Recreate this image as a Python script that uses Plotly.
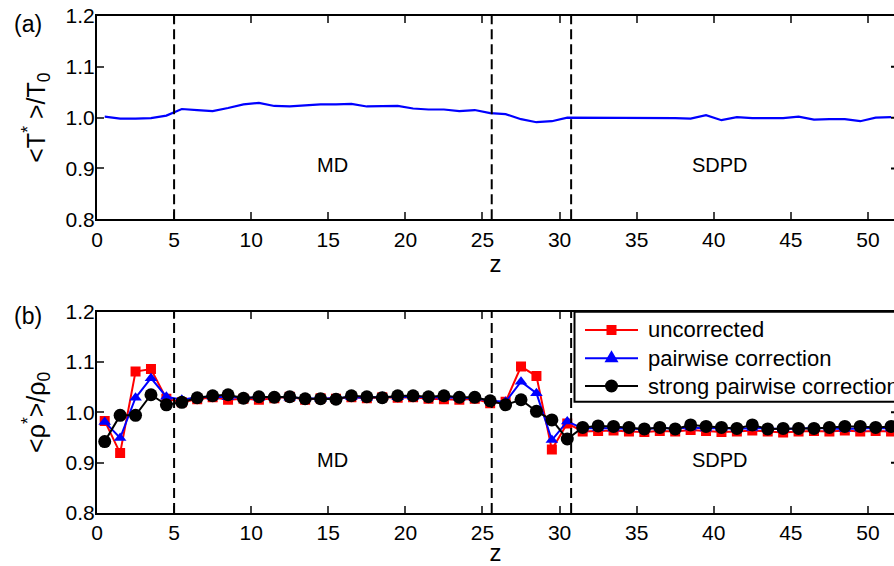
import plotly.graph_objects as go

# bin centres along z
z = [0.5, 1.5, 2.5, 3.5, 4.5, 5.5, 6.5, 7.5, 8.5, 9.5,
     10.5, 11.5, 12.5, 13.5, 14.5, 15.5, 16.5, 17.5, 18.5, 19.5,
     20.5, 21.5, 22.5, 23.5, 24.5, 25.5, 26.5, 27.5, 28.5, 29.5,
     30.5, 31.5, 32.5, 33.5, 34.5, 35.5, 36.5, 37.5, 38.5, 39.5,
     40.5, 41.5, 42.5, 43.5, 44.5, 45.5, 46.5, 47.5, 48.5, 49.5,
     50.5, 51.5]

# (a) temperature profile <T*>/T0
temperature = [1.002, 0.998, 0.998, 0.999, 1.004, 1.017, 1.015, 1.013, 1.019, 1.026,
               1.029, 1.023, 1.022, 1.024, 1.026, 1.026, 1.027, 1.022, 1.022, 1.023,
               1.018, 1.016, 1.016, 1.013, 1.015, 1.009, 1.007, 0.997, 0.991, 0.993,
               1.000, 1.000, 0.999, 0.999, 1.000, 1.000, 0.999, 0.999, 0.998, 1.005,
               0.995, 1.001, 0.999, 0.999, 0.999, 1.002, 0.996, 0.997, 0.997, 0.993,
               1.000, 1.001]

# (b) density profiles <rho*>/rho0
rho_uncorrected = [0.983, 0.919, 1.081, 1.086, 1.027, 1.020, 1.026, 1.030, 1.025, 1.027,
                   1.025, 1.028, 1.031, 1.025, 1.028, 1.027, 1.030, 1.028, 1.030, 1.029,
                   1.030, 1.027, 1.026, 1.025, 1.027, 1.018, 1.021, 1.091, 1.072, 0.926,
                   0.978, 0.962, 0.963, 0.964, 0.962, 0.961, 0.963, 0.962, 0.965, 0.963,
                   0.961, 0.962, 0.964, 0.962, 0.960, 0.962, 0.963, 0.962, 0.964, 0.962,
                   0.963, 0.962]
rho_pairwise = [0.981, 0.949, 1.029, 1.068, 1.031, 1.025, 1.030, 1.031, 1.030, 1.030,
                1.029, 1.031, 1.029, 1.028, 1.027, 1.028, 1.030, 1.029, 1.031, 1.030,
                1.031, 1.030, 1.030, 1.029, 1.028, 1.023, 1.021, 1.061, 1.038, 0.945,
                0.982, 0.968, 0.969, 0.968, 0.968, 0.967, 0.969, 0.968, 0.970, 0.968,
                0.969, 0.967, 0.969, 0.968, 0.967, 0.968, 0.969, 0.968, 0.967, 0.968,
                0.969, 0.968]
rho_strong = [0.942, 0.994, 0.994, 1.035, 1.015, 1.020, 1.029, 1.033, 1.035, 1.028,
              1.031, 1.030, 1.031, 1.027, 1.027, 1.026, 1.033, 1.031, 1.029, 1.033,
              1.033, 1.031, 1.033, 1.030, 1.030, 1.023, 1.015, 1.025, 1.002, 0.985,
              0.947, 0.970, 0.973, 0.972, 0.970, 0.967, 0.970, 0.967, 0.975, 0.972,
              0.970, 0.968, 0.975, 0.967, 0.968, 0.968, 0.968, 0.970, 0.972, 0.972,
              0.970, 0.972]

series_names = ["uncorrected", "pairwise correction", "strong pairwise correction"]
series_colors = ["#ff0000", "#0000ff", "#000000"]
series_symbols = ["square", "triangle-up", "circle"]
series_sizes = [10, 11, 13]

# interface positions between the MD and SDPD regions
interfaces = [5.0, 25.6, 30.75]
region_labels = ["MD", "SDPD"]
region_label_x = [15.3, 40.4]
region_label_y = 0.906

FONT = "Liberation Sans, Arial, sans-serif"
W, H = 894, 566
ML, MR, MT, MB = 97, 0, 16, 53
XMAX = 51.69
YRANGE = [0.8, 1.2]
TICK_SIZE = 21
TITLE_SIZE = 25

fig = go.Figure()

fig.add_trace(go.Scatter(x=z, y=temperature, mode="lines",
                         line=dict(color="#0000ff", width=2.2),
                         xaxis="x", yaxis="y", showlegend=False))

for vals, name, col, sym, sz in zip([rho_uncorrected, rho_pairwise, rho_strong],
                                    series_names, series_colors, series_symbols, series_sizes):
    fig.add_trace(go.Scatter(x=z, y=vals, mode="lines+markers", name=name,
                             line=dict(color=col, width=2),
                             marker=dict(symbol=sym, size=sz, color=col, line=dict(width=0)),
                             xaxis="x2", yaxis="y2", showlegend=False))

axis_common = dict(range=[0, XMAX], dtick=5, tick0=0, ticks="inside", ticklen=7,
                   tickwidth=2, linewidth=2, linecolor="black", mirror="ticks",
                   showgrid=False, zeroline=False,
                   tickfont=dict(family=FONT, size=TICK_SIZE, color="black"))
yaxis_common = dict(range=YRANGE, dtick=0.1, tick0=0.8, tickformat=".1f", ticks="inside",
                    ticklen=7, tickwidth=2, linewidth=2, linecolor="black",
                    showgrid=False, zeroline=False, ticklabelstandoff=-4,
                    tickfont=dict(family=FONT, size=TICK_SIZE, color="black"))

plot_h = H - MT - MB
dom_a = [(H - MB - 219.3) / plot_h, 1.0]
dom_b = [0.0, (H - MB - 311.7) / plot_h]

fig.update_layout(
    width=W, height=H, autosize=False,
    margin=dict(l=ML, r=MR, t=MT, b=MB, pad=0),
    paper_bgcolor="white", plot_bgcolor="white",
    font=dict(family=FONT, color="black"),
    xaxis=dict(axis_common, anchor="y",
               title=dict(text="z", font=dict(family=FONT, size=24), standoff=4)),
    yaxis=dict(yaxis_common, anchor="x", domain=dom_a,
               title=dict(text="&lt;T<sup>*</sup> &gt;/T<sub>0</sub>",
                          font=dict(family=FONT, size=TITLE_SIZE), standoff=13)),
    xaxis2=dict(axis_common, anchor="y2",
                title=dict(text="z", font=dict(family=FONT, size=24), standoff=4)),
    yaxis2=dict(yaxis_common, anchor="x2", domain=dom_b,
                title=dict(text="&lt;ρ<sup>*</sup>&gt;/ρ<sub>0</sub>",
                           font=dict(family=FONT, size=TITLE_SIZE), standoff=13)),
    showlegend=False,
)


def px_x(px):
    return (px - ML) / (W - ML - MR)


def paper_y(py):
    return (H - MB - py) / plot_h


shapes = []
annotations = []

# dashed interface markers and region labels in both panels
for xr, yr in [("x", "y"), ("x2", "y2")]:
    for xi in interfaces:
        shapes.append(dict(type="line", xref=xr, yref=yr, x0=xi, x1=xi,
                           y0=YRANGE[0], y1=YRANGE[1],
                           line=dict(color="black", width=2, dash="10px,5px")))
    for lab, lx in zip(region_labels, region_label_x):
        annotations.append(dict(x=lx, y=region_label_y, xref=xr, yref=yr, text=lab,
                                showarrow=False, font=dict(family=FONT, size=20)))
    # right-hand tick stubs of the clipped right axis
    for yt in [0.9, 1.0, 1.1]:
        shapes.append(dict(type="line", xref=xr + " domain", yref=yr,
                           x0=1 - 3 / (W - ML - MR), x1=1.0, y0=yt, y1=yt,
                           line=dict(color="black", width=2)))

# panel letters
for letter, py in [("(a)", 24), ("(b)", 316)]:
    annotations.append(dict(x=px_x(12), y=paper_y(py), xref="paper", yref="paper",
                            text=letter, showarrow=False, xanchor="left", yanchor="middle",
                            font=dict(family=FONT, size=23)))

# legend box for panel (b)
box_left, box_top, box_bottom = 574.5, 311.7, 401.7
shapes.append(dict(type="rect", xref="paper", yref="paper",
                   x0=px_x(box_left), x1=px_x(W + 20), y0=paper_y(box_bottom), y1=paper_y(box_top),
                   line=dict(color="black", width=2), fillcolor="white", layer="above"))
row_y = [330.0, 358.3, 386.0]
for ry, name, col, sym in zip(row_y, series_names, series_colors, series_symbols):
    yp = paper_y(ry)
    shapes.append(dict(type="line", xref="paper", yref="paper",
                       x0=px_x(585), x1=px_x(638), y0=yp, y1=yp,
                       line=dict(color=col, width=2), layer="above"))
    xc = px_x(611.5)
    if sym == "square":
        shapes.append(dict(type="rect", xref="paper", yref="paper", xsizemode="pixel",
                           ysizemode="pixel", xanchor=xc, yanchor=yp,
                           x0=-5, x1=5, y0=-5, y1=5, line=dict(width=0),
                           fillcolor=col, layer="above"))
    elif sym == "triangle-up":
        shapes.append(dict(type="path", xref="paper", yref="paper", xsizemode="pixel",
                           ysizemode="pixel", xanchor=xc, yanchor=yp,
                           path="M-7,-4 L7,-4 L0,8 Z", line=dict(width=0),
                           fillcolor=col, layer="above"))
    else:
        shapes.append(dict(type="circle", xref="paper", yref="paper", xsizemode="pixel",
                           ysizemode="pixel", xanchor=xc, yanchor=yp,
                           x0=-6.5, x1=6.5, y0=-6.5, y1=6.5, line=dict(width=0),
                           fillcolor=col, layer="above"))
    annotations.append(dict(x=px_x(646), y=yp, xref="paper", yref="paper", text=name,
                            showarrow=False, xanchor="left", yanchor="middle",
                            font=dict(family=FONT, size=22)))

fig.update_layout(shapes=shapes, annotations=annotations)

fig.write_html("out.html")
